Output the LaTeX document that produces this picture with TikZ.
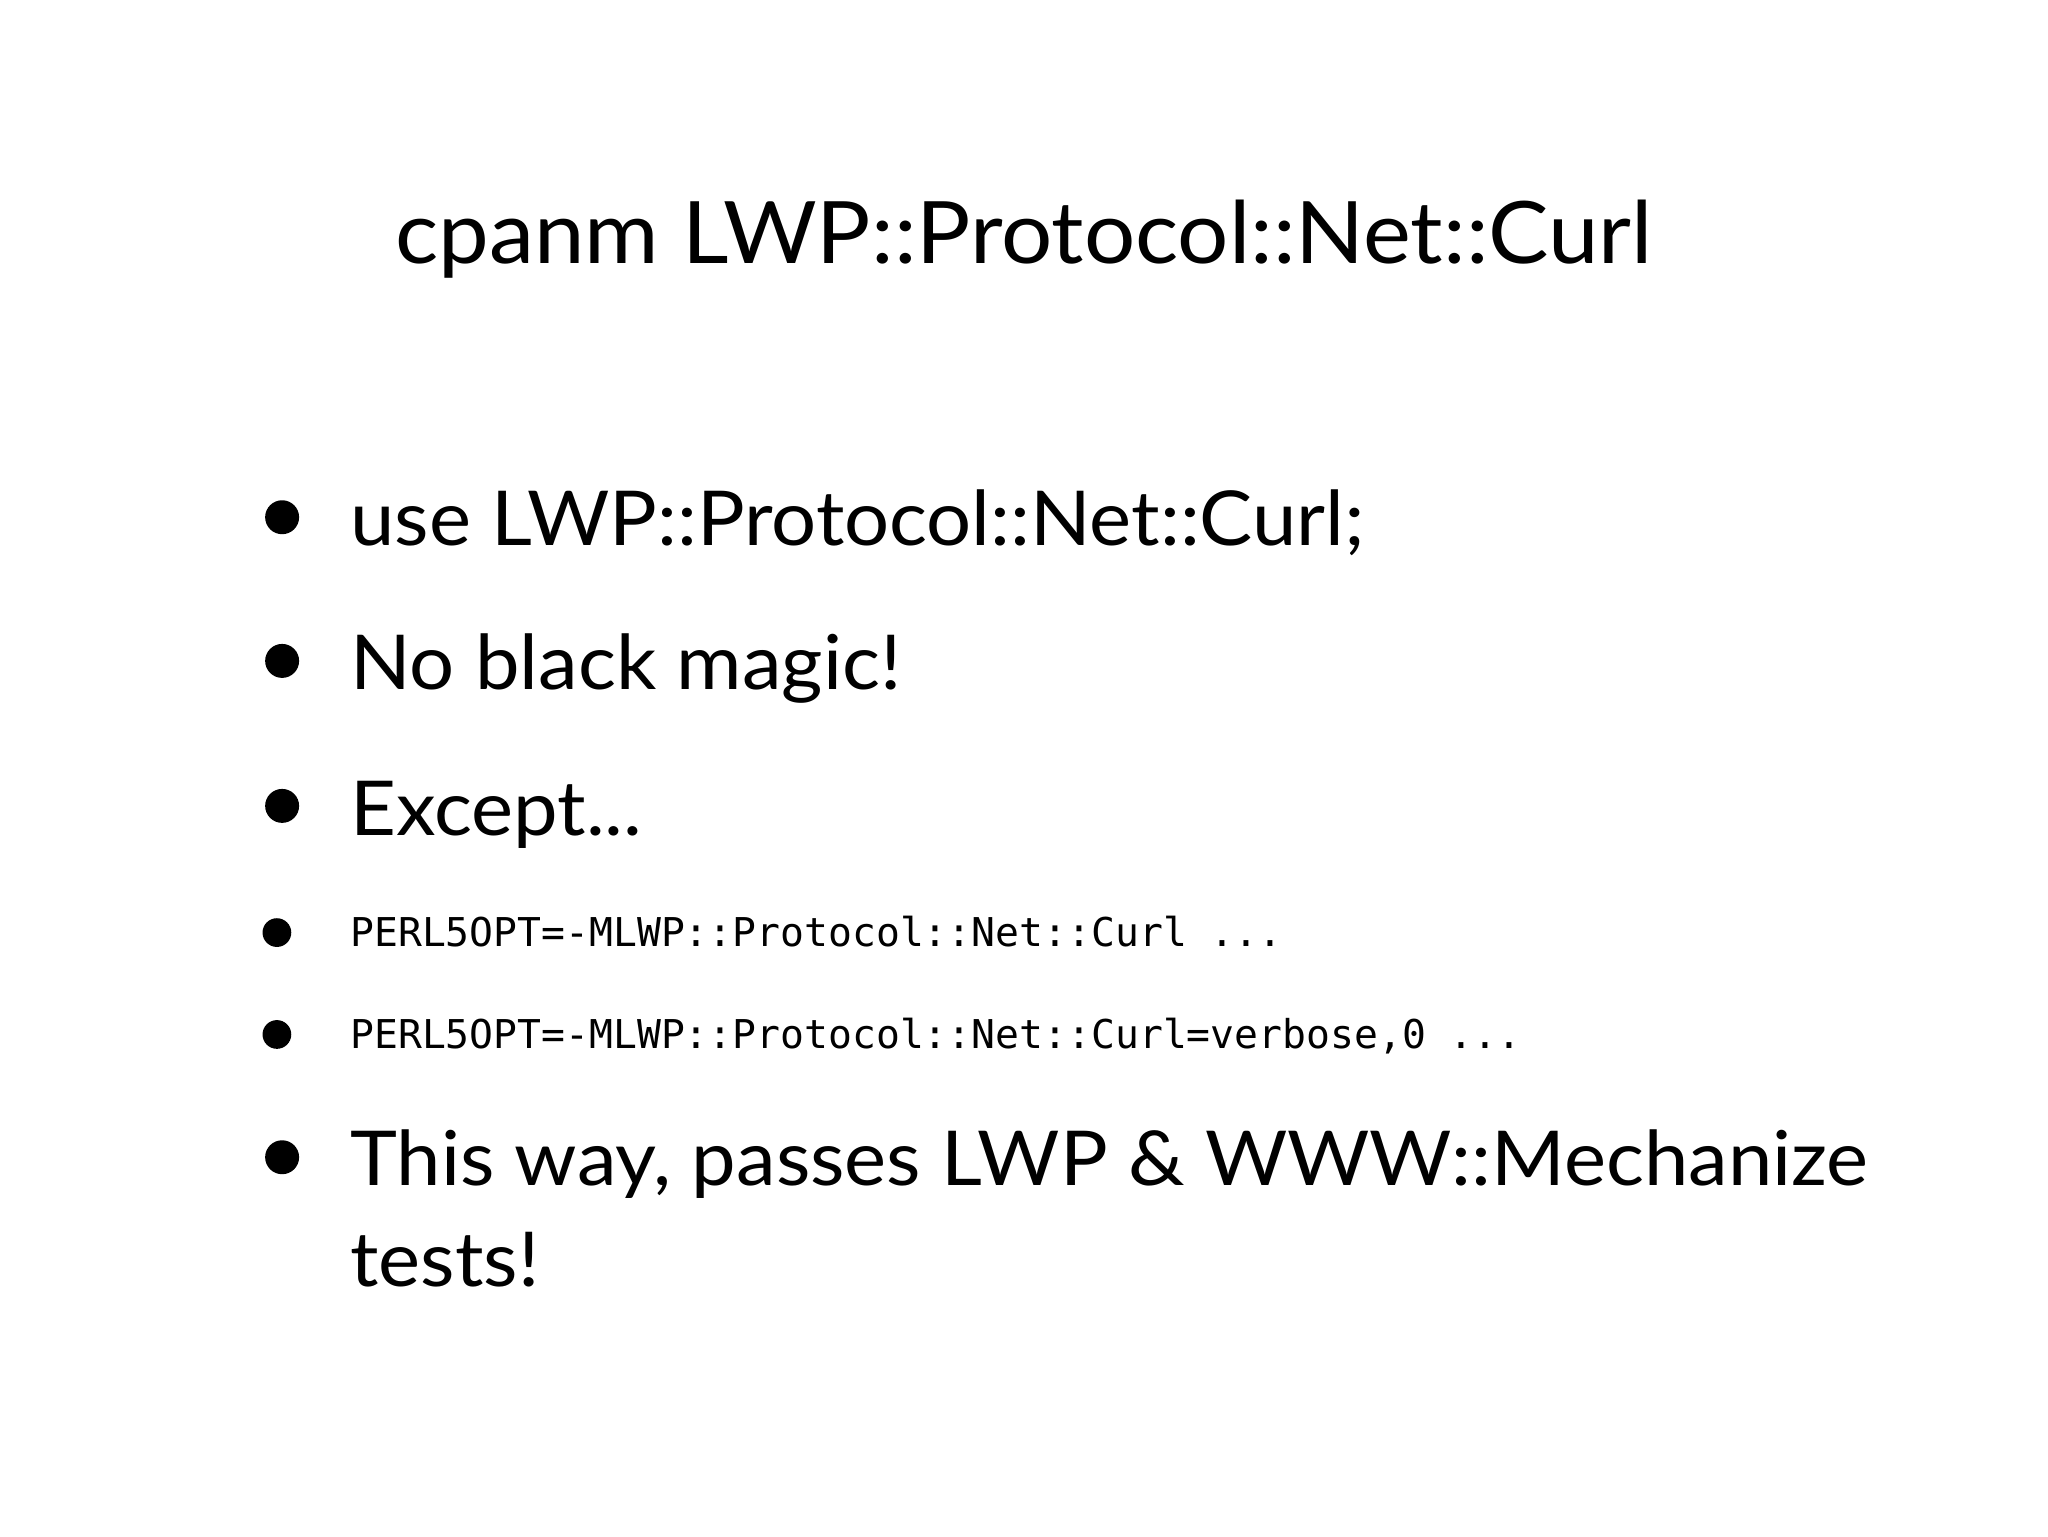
\documentclass[tikz,border=0pt]{standalone}
\usepackage{fontspec}
\setmainfont[FakeStretch=1.05]{Lato}
\setmonofont{DejaVu Sans Mono}
\begin{document}
\begin{tikzpicture}[x=1pt,y=-1pt,
  big/.style={anchor=base west,inner sep=0pt,font=\fontsize{58}{66}\selectfont},
  mono/.style={anchor=base west,inner sep=0pt,font=\ttfamily\fontsize{30.4}{34}\selectfont},
  dot/.style={circle,fill=black,inner sep=0pt,minimum size=26pt},
  sdot/.style={circle,fill=black,inner sep=0pt,minimum size=22pt}]
\useasboundingbox (0,0) rectangle (1568,1176);
\node[anchor=base,inner sep=0pt,font=\fontsize{66}{70}\selectfont] (title) at (784,202) {cpanm LWP::Protocol::Net::Curl};
\node[dot] (d1) at (216,396) {};
\node[big] (t1) at (268,418) {use LWP::Protocol::Net::Curl;};
\node[dot] (d2) at (216,506) {};
\node[big] (t2) at (268,528) {No black magic!};
\node[dot] (d3) at (216,617) {};
\node[big] (t3) at (268,640) {Except...};
\node[sdot] (d4) at (212,714) {};
\node[mono] (t4) at (268,725) {PERL5OPT=-MLWP::Protocol::Net::Curl ...};
\node[sdot] (d5) at (212,792) {};
\node[mono] (t5) at (268,803) {PERL5OPT=-MLWP::Protocol::Net::Curl=verbose,0 ...};
\node[dot] (d6) at (216,886) {};
\node[big] (t6) at (268,908) {This way, passes LWP \& WWW::Mechanize};
\node[big] (t7) at (268,985) {tests!};
\end{tikzpicture}
\end{document}
